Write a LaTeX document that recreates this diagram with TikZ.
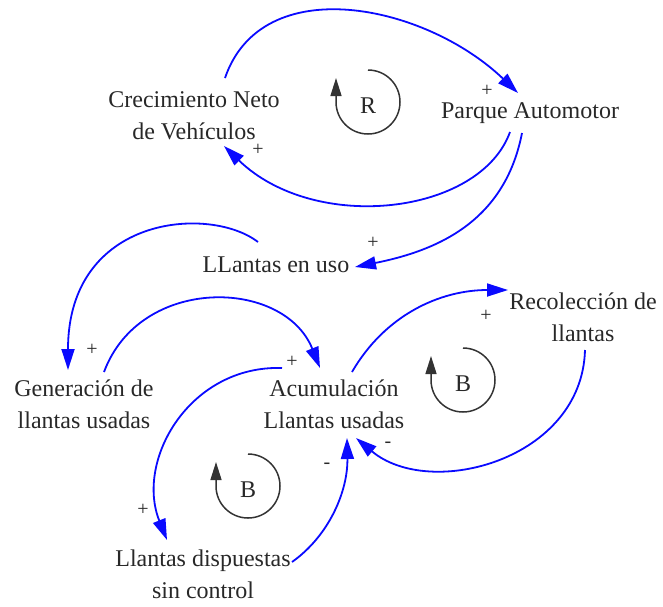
\documentclass[tikz,border=0pt]{standalone}
\usepackage{fontspec}
\setmainfont{Liberation Serif}
\usetikzlibrary{arrows.meta,calc}
\definecolor{cldblue}{RGB}{10,10,255}
\definecolor{txtgray}{RGB}{40,40,40}
\begin{document}
\begin{tikzpicture}[x=1pt,y=-1pt,
  var/.style={font=\fontsize{24}{32}\selectfont, align=center, inner sep=0pt, text=txtgray},
  link/.style={draw=cldblue, line width=1.8pt, -{Triangle[length=21pt,width=13pt]}},
  sign/.style={font=\fontsize{20}{20}\selectfont, inner sep=0pt, text=txtgray},
  loopline/.style={draw=black!80, line width=1.5pt, -{Triangle[length=18pt,width=11pt]}},
  looplbl/.style={font=\fontsize{24}{24}\selectfont, inner sep=0pt, text=txtgray}]
\useasboundingbox (0,0) rectangle (663,606);

% variables
\node[var] (crec)   at (194,116) {Crecimiento Neto\\de Vehículos};
\node[var] (parque) at (530,113) {Parque Automotor};
\node[var] (uso)    at (276,265) {LLantas en uso};
\node[var] (gen)    at (84,404)  {Generación de\\llantas usadas};
\node[var] (acum)   at (334,404) {Acumulación\\Llantas usadas};
\node[var] (recol)  at (583,317) {Recolección de\\llantas};
\node[var] (disp)   at (203,574) {Llantas dispuestas\\sin control};

% links
\draw[link] ($(crec)+(31,-38)$) .. controls (262,-30) and (425,4) .. ($(parque)+(-12,-20)$);
\draw[link] ($(parque)+(-20,19)$) .. controls (480,215) and (315,234) .. ($(crec)+(30,30)$);
\draw[link] ($(parque)+(-8,20)$) .. controls (505,220) and (440,250) .. ($(uso)+(79,2)$);
\draw[link] ($(uso)+(-18,-23)$) .. controls (210,205) and (68,215) .. ($(gen)+(-16,-34)$);
\draw[link] ($(gen)+(20,-32)$) .. controls (140,275) and (284,278) .. ($(acum)+(-14,-36)$);
\draw[link] ($(acum)+(18,-32)$) .. controls (385,315) and (440,290) .. ($(recol)+(-75,-27)$);
\draw[link] ($(recol)+(2,33)$) .. controls (582,460) and (430,500) .. ($(acum)+(22,34)$);
\draw[link] ($(acum)+(-52,-36)$) .. controls (190,365) and (135,460) .. ($(disp)+(-36,-34)$);
\draw[link] ($(disp)+(89,-12)$) .. controls (330,535) and (348,490) .. ($(acum)+(13,34)$);

% polarity signs
\node[sign] (s1) at (487,91)  {+};
\node[sign] (s2) at (258,150) {+};
\node[sign] (s3) at (373,243) {+};
\node[sign] (s4) at (92,350)  {+};
\node[sign] (s5) at (292,362) {+};
\node[sign] (s6) at (486,316) {+};
\node[sign] (s7) at (143,510) {+};
\node[sign] (s8) at (388,445) {-};
\node[sign] (s9) at (327,466) {-};

% loop markers
\node[looplbl] (lr) at (368,106) {R};
\draw[loopline] ($(lr)+(0,-36)$) arc[start angle=-90, end angle=180, radius=32] -- ++(0,-24);
\node[looplbl] (lb1) at (463,384) {B};
\draw[loopline] ($(lb1)+(0,-36)$) arc[start angle=-90, end angle=180, radius=32] -- ++(0,-24);
\node[looplbl] (lb2) at (248,490) {B};
\draw[loopline] ($(lb2)+(0,-36)$) arc[start angle=-90, end angle=180, radius=32] -- ++(0,-24);
\end{tikzpicture}
\end{document}
